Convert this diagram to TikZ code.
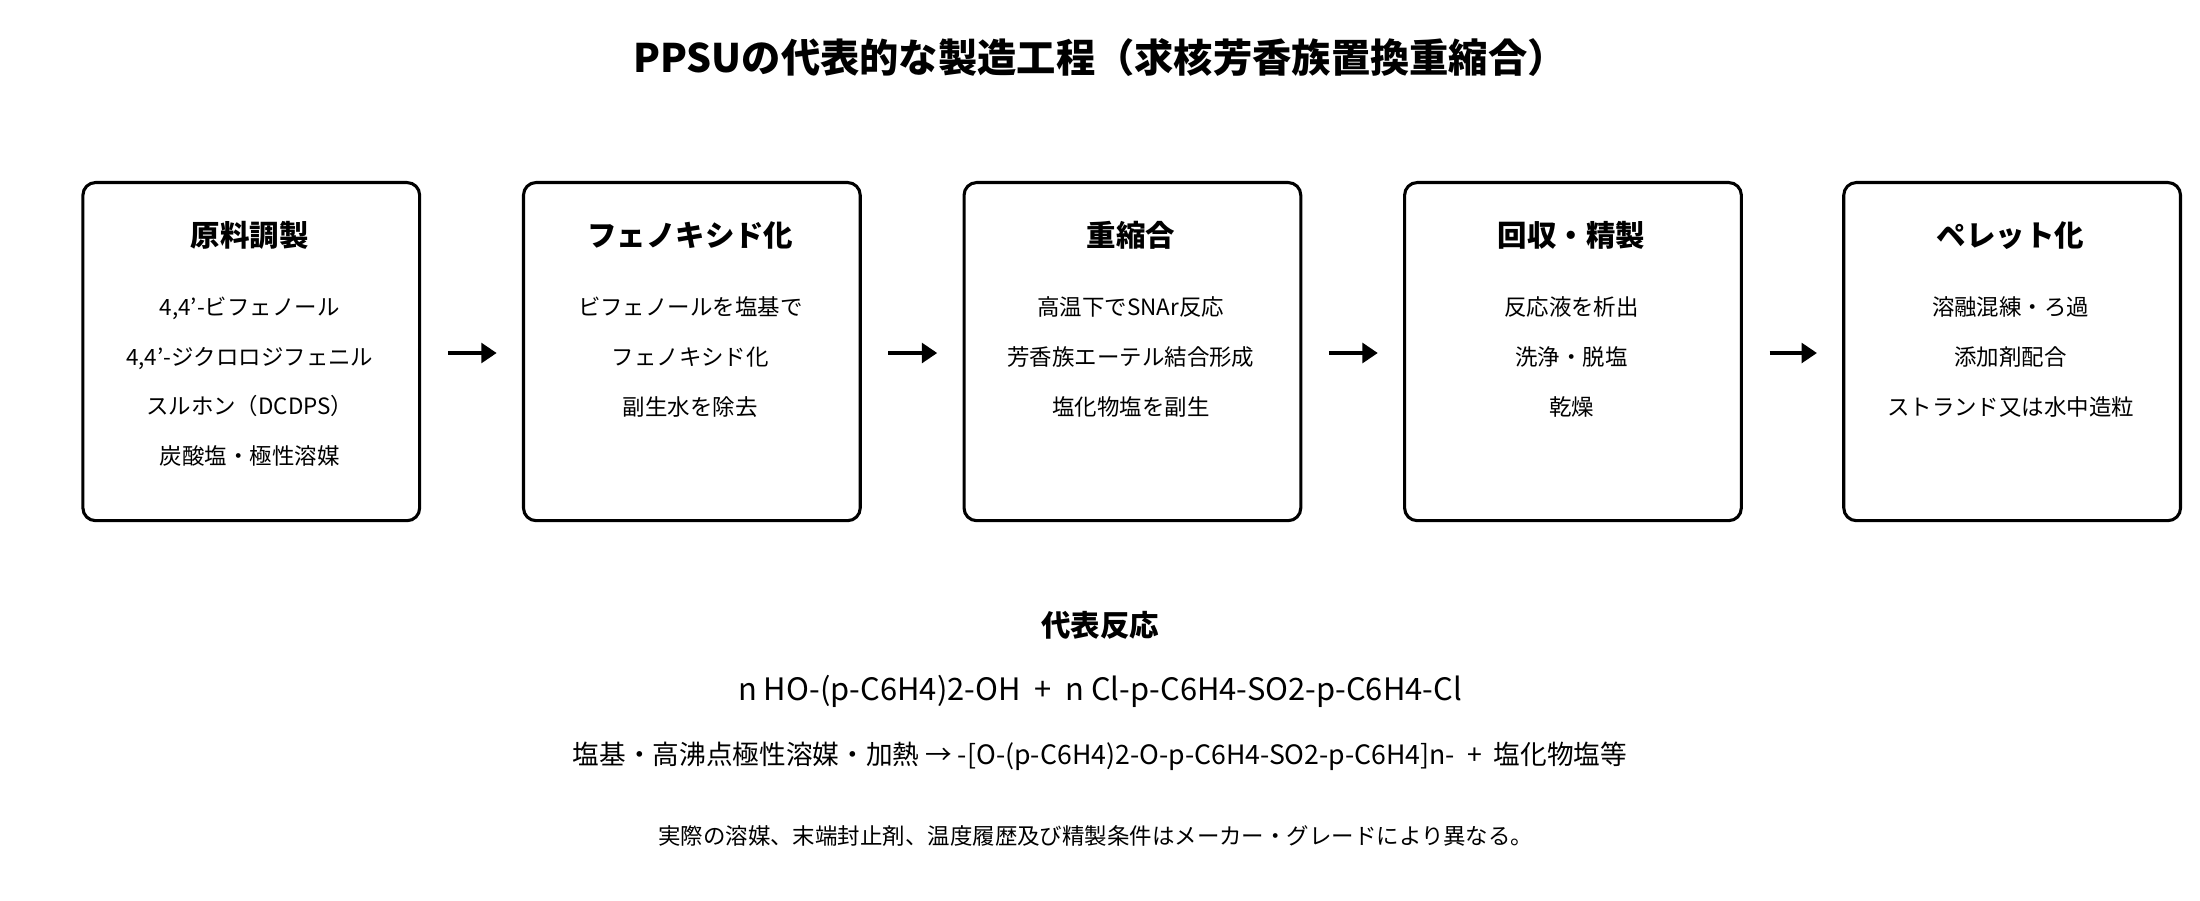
\documentclass[tikz,border=0pt]{standalone}
\usepackage{fontspec}
\setmainfont{Noto Sans CJK JP}
\usetikzlibrary{arrows.meta}
\begin{document}
\begin{tikzpicture}[x=1pt,y=-1pt,
  box/.style={draw=black,line width=2.2pt,rounded corners=9pt,minimum width=240pt,minimum height=241pt,anchor=north west,inner sep=0pt},
  ttl/.style={font=\fontsize{21}{25}\selectfont\bfseries},
  body/.style={font=\fontsize{16}{35.5}\selectfont,align=center,anchor=north},
  arr/.style={-{Triangle[length=11pt,width=14pt]},line width=3pt}]
\fill[white] (0,0) rectangle (1568,641.5);
\useasboundingbox (0,0) rectangle (1568,641.5);
\node[font=\fontsize{28}{32}\selectfont\bfseries] (title) at (784,41) {PPSUの代表的な製造工程（求核芳香族置換重縮合）};
\foreach \i/\x/\t/\b in {
 1/58/原料調製/{4,4'-ビフェノール\\4,4'-ジクロロジフェニル\\スルホン（DCDPS）\\炭酸塩・極性溶媒},
 2/372/フェノキシド化/{ビフェノールを塩基で\\フェノキシド化\\副生水を除去},
 3/686/重縮合/{高温下でSNAr反応\\芳香族エーテル結合形成\\塩化物塩を副生},
 4/1000/回収・精製/{反応液を析出\\洗浄・脱塩\\乾燥},
 5/1313/ペレット化/{溶融混練・ろ過\\添加剤配合\\ストランド又は水中造粒}}{
  \node[box] (b\i) at (\x,129) {};
  \node[ttl] (t\i) at (\x+120,168) {\t};
  \node[body] (d\i) at (\x+120,208) {\b};
}
\foreach \a/\b in {1/2,2/3,3/4,4/5}{
  \coordinate (s\a) at ([xshift=19pt,yshift=0pt]b\a.east);
  \coordinate (e\a) at ([xshift=-18pt]b\b.west);
  \draw[arr] ([yshift=-1pt]s\a) -- ([yshift=-1pt]e\a);
}
\node[font=\fontsize{21}{25}\selectfont\bfseries] (rt) at (784,446) {代表反応};
\node[font=\fontsize{22}{26}\selectfont] (r1) at (784,493) {n HO-(p-C6H4)2-OH \ + \ n Cl-p-C6H4-SO2-p-C6H4-Cl};
\node[font=\fontsize{19}{23}\selectfont] (r2) at (784,539) {塩基・高沸点極性溶媒・加熱 → -[O-(p-C6H4)2-O-p-C6H4-SO2-p-C6H4]n- \ + \ 塩化物塩等};
\node[font=\fontsize{16}{20}\selectfont] (note) at (781,596) {実際の溶媒、末端封止剤、温度履歴及び精製条件はメーカー・グレードにより異なる。};
\end{tikzpicture}
\end{document}
